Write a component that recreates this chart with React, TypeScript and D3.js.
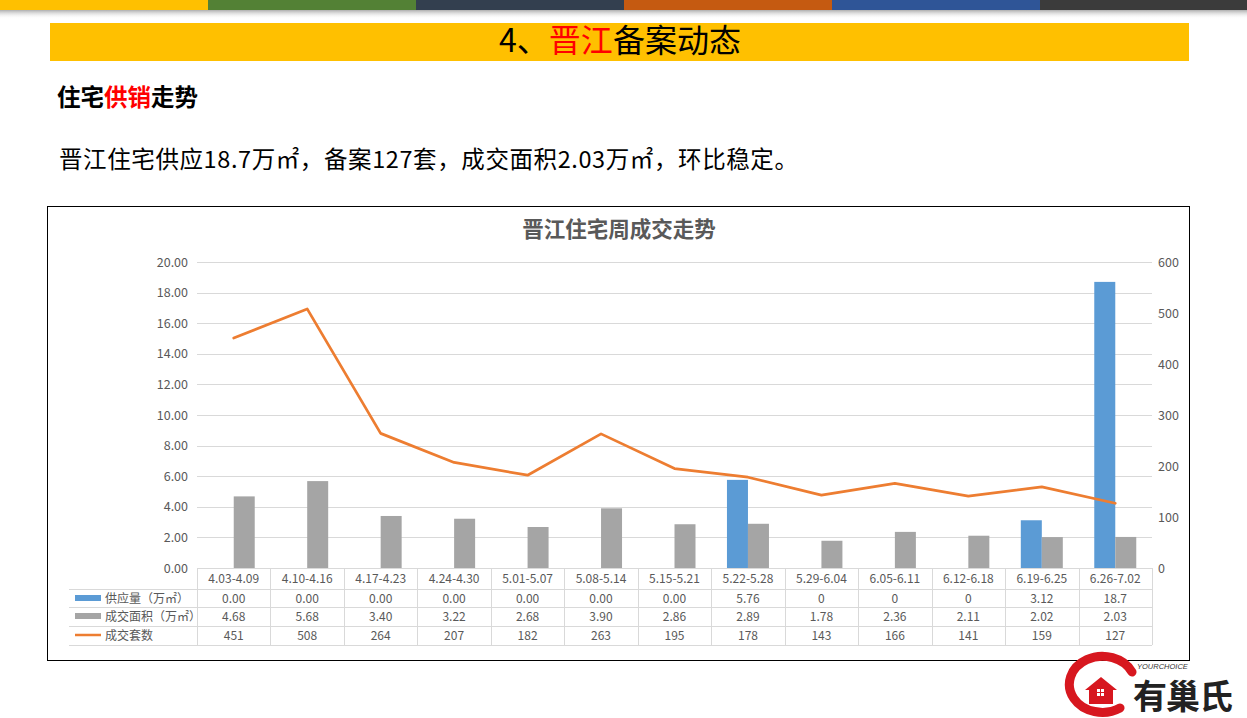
import React from "react";
import * as d3 from "d3";

const categories = ["4.03-4.09","4.10-4.16","4.17-4.23","4.24-4.30","5.01-5.07","5.08-5.14","5.15-5.21","5.22-5.28","5.29-6.04","6.05-6.11","6.12-6.18","6.19-6.25","6.26-7.02"];
const supply = [0,0,0,0,0,0,0,5.76,0,0,0,3.12,18.7];
const supplyLabels = ["0.00","0.00","0.00","0.00","0.00","0.00","0.00","5.76","0","0","0","3.12","18.7"];
const area = [4.68,5.68,3.40,3.22,2.68,3.90,2.86,2.89,1.78,2.36,2.11,2.02,2.03];
const areaLabels = ["4.68","5.68","3.40","3.22","2.68","3.90","2.86","2.89","1.78","2.36","2.11","2.02","2.03"];
const units = [451,508,264,207,182,263,195,178,143,166,141,159,127];
const leftTicks = [0,2,4,6,8,10,12,14,16,18,20];
const rightTicks = [0,100,200,300,400,500,600];
const stripColors = ["#FFC000","#538135","#333F4F","#C55A11","#2F5597","#3B3B3B"];

const FONT = "'Noto Sans CJK SC', 'Microsoft YaHei', sans-serif";

export default function App() {
  const W = 1247, H = 718;
  const plotL = 197, plotR = 1152, plotT = 262, plotB = 568;
  const x = d3.scaleBand<string>().domain(categories).range([plotL, plotR]).paddingInner(0).paddingOuter(0);
  const bw = x.bandwidth();
  const barW = 21;
  const yL = d3.scaleLinear().domain([0, 20]).range([plotB, plotT]);
  const yR = d3.scaleLinear().domain([0, 600]).range([plotB, plotT]);
  const cx = (c: string) => (x(c) as number) + bw / 2;
  const line = d3.line<number>().x((_, i) => cx(categories[i])).y(d => yR(d));
  const rowY = [568, 589, 607, 626, 645];
  const gray = "#595959";
  const grid = "#D9D9D9";

  return (
    <svg width={W} height={H} style={{ position: "absolute", left: 0, top: 0, background: "#fff" }} fontFamily={FONT}>
      <defs>
        <linearGradient id="shadow" x1="0" y1="0" x2="0" y2="1">
          <stop offset="0" stopColor="#9a9a9a" stopOpacity="0.8" />
          <stop offset="1" stopColor="#ffffff" stopOpacity="0" />
        </linearGradient>
      </defs>
      <rect x={0} y={0} width={W} height={H} fill="#fff" />
      {/* top strip */}
      {stripColors.map((c, i) => (
        <rect key={i} x={i * 208} y={0} width={i === 5 ? W - 1040 : 208} height={10} fill={c} />
      ))}
      <rect x={0} y={10} width={W} height={9} fill="url(#shadow)" />
      {/* title band */}
      <rect x={50} y={23} width={1139} height={38} fill="#FFC000" />
      <text x={620} y={52} textAnchor="middle" fontSize={32} fill="#000">
        <tspan>4、</tspan><tspan fill="#FF0000">晋江</tspan><tspan>备案动态</tspan>
      </text>
      <text x={57} y={106} fontSize={23.5} fontWeight="bold" fill="#000">
        <tspan>住宅</tspan><tspan fill="#FF0000">供销</tspan><tspan>走势</tspan>
      </text>
      <text x={59} y={168} fontSize={23.5} letterSpacing={0.6} fill="#000">晋江住宅供应18.7万㎡，备案127套，成交面积2.03万㎡，环比稳定。</text>

      {/* chart frame */}
      <rect x={47.5} y={206.5} width={1142} height={454} fill="#fff" stroke="#000" strokeWidth={1} />
      <text x={619} y={237} textAnchor="middle" fontSize={21.5} fontWeight="bold" fill={gray}>晋江住宅周成交走势</text>

      {/* gridlines */}
      {leftTicks.slice(1).map(t => (
        <line key={t} x1={plotL} x2={plotR} y1={Math.round(yL(t)) + 0.5} y2={Math.round(yL(t)) + 0.5} stroke={grid} />
      ))}
      {leftTicks.map(t => (
        <text key={t} x={188} y={yL(t) + 4.5} textAnchor="end" fontSize={12.5} fill={gray}>{t.toFixed(2)}</text>
      ))}
      {rightTicks.map(t => (
        <text key={t} x={1158} y={yR(t) + 4.5} textAnchor="start" fontSize={12.5} fill={gray}>{t}</text>
      ))}

      {/* bars */}
      {categories.map((c, i) => (
        <g key={c}>
          {supply[i] > 0 && (
            <rect x={cx(c) - barW} y={yL(supply[i])} width={barW} height={plotB - yL(supply[i])} fill="#5B9BD5" />
          )}
          <rect x={cx(c)} y={yL(area[i])} width={barW} height={plotB - yL(area[i])} fill="#A5A5A5" />
        </g>
      ))}
      <path d={line(units) as string} fill="none" stroke="#ED7D31" strokeWidth={2.75} strokeLinejoin="round" strokeLinecap="round" />

      {/* data table */}
      <line x1={plotL} x2={plotR} y1={rowY[0] + 0.5} y2={rowY[0] + 0.5} stroke={grid} />
      {rowY.slice(1).map(r => (
        <line key={r} x1={69} x2={plotR} y1={r + 0.5} y2={r + 0.5} stroke={grid} />
      ))}
      {categories.map(c => (
        <line key={c} x1={Math.round(x(c) as number) + 0.5} x2={Math.round(x(c) as number) + 0.5} y1={rowY[0]} y2={rowY[4]} stroke={grid} />
      ))}
      <line x1={plotR + 0.5} x2={plotR + 0.5} y1={rowY[0]} y2={rowY[4]} stroke={grid} />
      {categories.map((c, i) => (
        <g key={c} fontSize={12} fill={gray} textAnchor="middle">
          <text x={cx(c)} y={583}>{c}</text>
          <text x={cx(c)} y={603}>{supplyLabels[i]}</text>
          <text x={cx(c)} y={621}>{areaLabels[i]}</text>
          <text x={cx(c)} y={640}>{units[i]}</text>
        </g>
      ))}
      {/* legend keys */}
      <rect x={75} y={595} width={26} height={6} fill="#5B9BD5" />
      <rect x={75} y={613} width={26} height={6} fill="#A5A5A5" />
      <line x1={75} x2={101} y1={635} y2={635} stroke="#ED7D31" strokeWidth={2.5} />
      <text x={105} y={603} fontSize={12} fill={gray}>供应量（万㎡）</text>
      <text x={105} y={621} fontSize={12} fill={gray}>成交面积（万㎡）</text>
      <text x={105} y={640} fontSize={12} fill={gray}>成交套数</text>

      {/* logo */}
      <g>
        <path d="M1132,672 A33,28 0 1 0 1120,708" fill="none" stroke="#D7171F" strokeWidth={9} strokeLinecap="round" />
        <path d="M1085,690 L1101,677 L1117,690 L1113,690 L1113,704 L1089,704 L1089,690 Z" fill="#D7171F" />
        <rect x={1097} y={689} width={3} height={3} fill="#fff" />
        <rect x={1101} y={689} width={3} height={3} fill="#fff" />
        <rect x={1097} y={693} width={3} height={3} fill="#fff" />
        <rect x={1101} y={693} width={3} height={3} fill="#fff" />
        <text x={1137} y={669} fontSize={7.5} fontStyle="italic" fill="#333" fontFamily="Arial, sans-serif">YOURCHOICE</text>
        <text x={1133} y={709} fontSize={34} fontWeight="bold" fill="#222" letterSpacing={-1}>有巢氏</text>
      </g>
    </svg>
  );
}
